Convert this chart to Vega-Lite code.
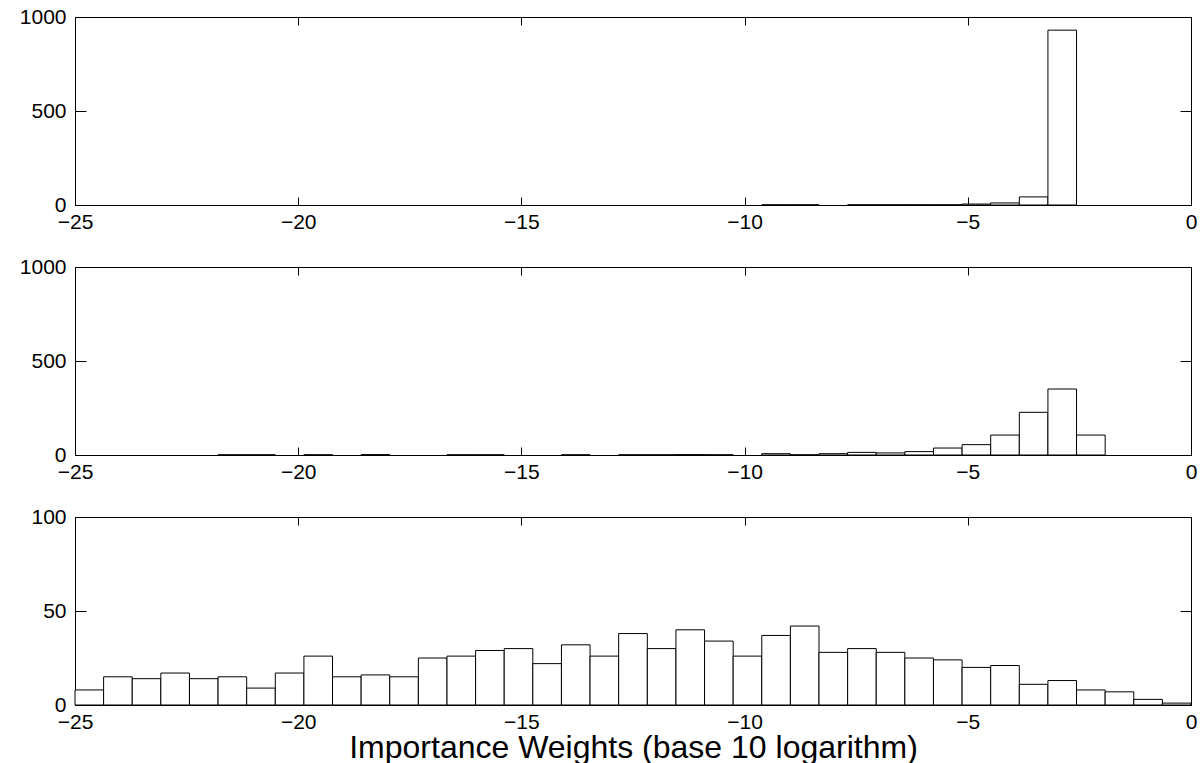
{
  "$schema": "https://vega.github.io/schema/vega-lite/v6.json",
  "background": "white",
  "padding": {"left": 18, "top": 5, "right": 5, "bottom": 5},
  "spacing": 62,
  "bounds": "flush",
  "config": {
    "view": {"stroke": "black", "strokeWidth": 1},
    "font": "Liberation Sans",
    "axis": {
      "labelFont": "Liberation Sans", "labelFontSize": 21, "labelColor": "black",
      "tickColor": "black", "tickWidth": 1, "ticks": true, "domain": false, "grid": false,
      "labelFlush": false, "labelOverlap": false, "zindex": 1,
      "titleFont": "Liberation Sans", "titleFontSize": 32, "titleFontWeight": "normal", "titleColor": "black"
    },
    "axisX": {"tickSize": -8, "labelPadding": 14},
    "axisY": {"tickSize": -11, "labelPadding": 20}
  },
  "datasets": {
    "p1": [
      {"x0": -9.615, "x1": -8.974, "n": 1},
      {"x0": -8.974, "x1": -8.333, "n": 1},
      {"x0": -7.692, "x1": -7.051, "n": 1},
      {"x0": -7.051, "x1": -6.41, "n": 1},
      {"x0": -6.41, "x1": -5.769, "n": 1},
      {"x0": -5.769, "x1": -5.128, "n": 1},
      {"x0": -5.128, "x1": -4.487, "n": 5},
      {"x0": -4.487, "x1": -3.846, "n": 11},
      {"x0": -3.846, "x1": -3.205, "n": 43},
      {"x0": -3.205, "x1": -2.564, "n": 930}
    ],
    "p2": [
      {"x0": -21.795, "x1": -21.154, "n": 1},
      {"x0": -21.154, "x1": -20.513, "n": 1},
      {"x0": -19.872, "x1": -19.231, "n": 1},
      {"x0": -18.59, "x1": -17.949, "n": 2},
      {"x0": -16.667, "x1": -16.026, "n": 1},
      {"x0": -16.026, "x1": -15.385, "n": 1},
      {"x0": -14.103, "x1": -13.462, "n": 1},
      {"x0": -12.821, "x1": -12.179, "n": 1},
      {"x0": -12.179, "x1": -11.538, "n": 1},
      {"x0": -11.538, "x1": -10.897, "n": 2},
      {"x0": -10.897, "x1": -10.256, "n": 1},
      {"x0": -9.615, "x1": -8.974, "n": 7},
      {"x0": -8.974, "x1": -8.333, "n": 1},
      {"x0": -8.333, "x1": -7.692, "n": 7},
      {"x0": -7.692, "x1": -7.051, "n": 14},
      {"x0": -7.051, "x1": -6.41, "n": 11},
      {"x0": -6.41, "x1": -5.769, "n": 18},
      {"x0": -5.769, "x1": -5.128, "n": 37},
      {"x0": -5.128, "x1": -4.487, "n": 55},
      {"x0": -4.487, "x1": -3.846, "n": 106},
      {"x0": -3.846, "x1": -3.205, "n": 227},
      {"x0": -3.205, "x1": -2.564, "n": 351},
      {"x0": -2.564, "x1": -1.923, "n": 106}
    ],
    "p3": [
      {"x0": -25, "x1": -24.359, "n": 8},
      {"x0": -24.359, "x1": -23.718, "n": 15},
      {"x0": -23.718, "x1": -23.077, "n": 14},
      {"x0": -23.077, "x1": -22.436, "n": 17},
      {"x0": -22.436, "x1": -21.795, "n": 14},
      {"x0": -21.795, "x1": -21.154, "n": 15},
      {"x0": -21.154, "x1": -20.513, "n": 9},
      {"x0": -20.513, "x1": -19.872, "n": 17},
      {"x0": -19.872, "x1": -19.231, "n": 26},
      {"x0": -19.231, "x1": -18.59, "n": 15},
      {"x0": -18.59, "x1": -17.949, "n": 16},
      {"x0": -17.949, "x1": -17.308, "n": 15},
      {"x0": -17.308, "x1": -16.667, "n": 25},
      {"x0": -16.667, "x1": -16.026, "n": 26},
      {"x0": -16.026, "x1": -15.385, "n": 29},
      {"x0": -15.385, "x1": -14.744, "n": 30},
      {"x0": -14.744, "x1": -14.103, "n": 22},
      {"x0": -14.103, "x1": -13.462, "n": 32},
      {"x0": -13.462, "x1": -12.821, "n": 26},
      {"x0": -12.821, "x1": -12.179, "n": 38},
      {"x0": -12.179, "x1": -11.538, "n": 30},
      {"x0": -11.538, "x1": -10.897, "n": 40},
      {"x0": -10.897, "x1": -10.256, "n": 34},
      {"x0": -10.256, "x1": -9.615, "n": 26},
      {"x0": -9.615, "x1": -8.974, "n": 37},
      {"x0": -8.974, "x1": -8.333, "n": 42},
      {"x0": -8.333, "x1": -7.692, "n": 28},
      {"x0": -7.692, "x1": -7.051, "n": 30},
      {"x0": -7.051, "x1": -6.41, "n": 28},
      {"x0": -6.41, "x1": -5.769, "n": 25},
      {"x0": -5.769, "x1": -5.128, "n": 24},
      {"x0": -5.128, "x1": -4.487, "n": 20},
      {"x0": -4.487, "x1": -3.846, "n": 21},
      {"x0": -3.846, "x1": -3.205, "n": 11},
      {"x0": -3.205, "x1": -2.564, "n": 13},
      {"x0": -2.564, "x1": -1.923, "n": 8},
      {"x0": -1.923, "x1": -1.282, "n": 7},
      {"x0": -1.282, "x1": -0.641, "n": 3},
      {"x0": -0.641, "x1": 0, "n": 1}
    ]
  },
  "vconcat": [
    {
      "width": 1116, "height": 188,
      "data": {"name": "p1"},
      "layer": [
        {
          "mark": {"type": "rect", "fill": "white", "stroke": "black", "strokeWidth": 1},
          "encoding": {
            "x": {"field": "x0", "type": "quantitative", "scale": {"domain": [-25, 0], "nice": false}, "axis": {"values": [-25, -20, -15, -10, -5, 0], "format": "d", "title": null}},
            "x2": {"field": "x1"},
            "y": {"field": "n", "type": "quantitative", "scale": {"domain": [0, 1000], "nice": false}, "axis": {"values": [0, 500, 1000], "format": "d", "title": null}},
            "y2": {"datum": 0}
          }
        },
        {
          "mark": {"type": "rect", "opacity": 0},
          "encoding": {
            "x": {"field": "x0", "type": "quantitative", "axis": {"orient": "top", "labels": false, "values": [-25, -20, -15, -10, -5, 0], "title": null}},
            "x2": {"field": "x1"},
            "y": {"field": "n", "type": "quantitative", "axis": {"orient": "right", "labels": false, "values": [0, 500, 1000], "title": null}},
            "y2": {"datum": 0}
          }
        }
      ],
      "resolve": {"axis": {"x": "independent", "y": "independent"}}
    },
    {
      "width": 1116, "height": 188,
      "data": {"name": "p2"},
      "layer": [
        {
          "mark": {"type": "rect", "fill": "white", "stroke": "black", "strokeWidth": 1},
          "encoding": {
            "x": {"field": "x0", "type": "quantitative", "scale": {"domain": [-25, 0], "nice": false}, "axis": {"values": [-25, -20, -15, -10, -5, 0], "format": "d", "title": null}},
            "x2": {"field": "x1"},
            "y": {"field": "n", "type": "quantitative", "scale": {"domain": [0, 1000], "nice": false}, "axis": {"values": [0, 500, 1000], "format": "d", "title": null}},
            "y2": {"datum": 0}
          }
        },
        {
          "mark": {"type": "rect", "opacity": 0},
          "encoding": {
            "x": {"field": "x0", "type": "quantitative", "axis": {"orient": "top", "labels": false, "values": [-25, -20, -15, -10, -5, 0], "title": null}},
            "x2": {"field": "x1"},
            "y": {"field": "n", "type": "quantitative", "axis": {"orient": "right", "labels": false, "values": [0, 500, 1000], "title": null}},
            "y2": {"datum": 0}
          }
        }
      ],
      "resolve": {"axis": {"x": "independent", "y": "independent"}}
    },
    {
      "width": 1116, "height": 188,
      "data": {"name": "p3"},
      "layer": [
        {
          "mark": {"type": "rect", "fill": "white", "stroke": "black", "strokeWidth": 1},
          "encoding": {
            "x": {"field": "x0", "type": "quantitative", "scale": {"domain": [-25, 0], "nice": false}, "axis": {"values": [-25, -20, -15, -10, -5, 0], "format": "d", "title": "Importance Weights (base 10 logarithm)", "titlePadding": 0}},
            "x2": {"field": "x1"},
            "y": {"field": "n", "type": "quantitative", "scale": {"domain": [0, 100], "nice": false}, "axis": {"values": [0, 50, 100], "format": "d", "title": null}},
            "y2": {"datum": 0}
          }
        },
        {
          "mark": {"type": "rect", "opacity": 0},
          "encoding": {
            "x": {"field": "x0", "type": "quantitative", "axis": {"orient": "top", "labels": false, "values": [-25, -20, -15, -10, -5, 0], "title": null}},
            "x2": {"field": "x1"},
            "y": {"field": "n", "type": "quantitative", "axis": {"orient": "right", "labels": false, "values": [0, 50, 100], "title": null}},
            "y2": {"datum": 0}
          }
        }
      ],
      "resolve": {"axis": {"x": "independent", "y": "independent"}}
    }
  ]
}
